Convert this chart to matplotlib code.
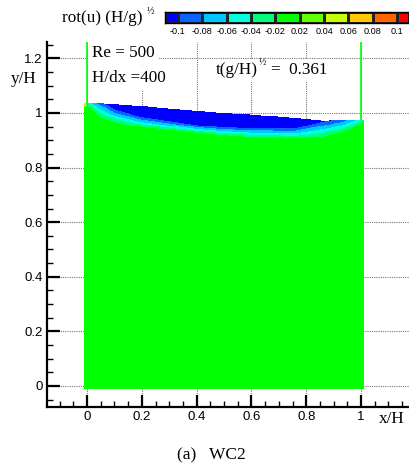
import matplotlib
matplotlib.use('Agg')
import matplotlib.pyplot as plt
from matplotlib.colors import ListedColormap, BoundaryNorm
import numpy as np

W, H = 409, 465
SERIF = 'Liberation Serif'
SANS = 'Liberation Sans'

# ---- data ----
levels = [-0.1, -0.08, -0.06, -0.04, -0.02, 0.02, 0.04, 0.06, 0.08, 0.1]
level_labels = ['-0.1', '-0.08', '-0.06', '-0.04', '-0.02', '0.02', '0.04', '0.06', '0.08', '0.1']
band_colors = ['#0000FF', '#0A64FF', '#00C8FF', '#00FFDC', '#00FF78', '#00FF00',
               '#64FF00', '#C8FF00', '#FFC800', '#FF6400', '#FF0000']

# free surface height y/H along x/H
surf_x = [-0.01, 0.05, 0.1, 0.193, 0.27, 0.41, 0.485, 0.595, 0.76, 0.858, 0.93, 1.01]
surf_y = [1.037, 1.036, 1.033, 1.026, 1.018, 1.007, 1.001, 0.995, 0.981, 0.972, 0.973, 0.974]

# depth below the surface where rot(u) = -0.1 and where it reaches -0.02
band_x = [-0.01, 0.02, 0.047, 0.065, 0.1, 0.157, 0.193, 0.255, 0.41, 0.595, 0.76, 0.858, 0.93, 0.978, 1.01]
depth_blue = [-0.03, -0.02, -0.008, 0.0, 0.02, 0.031, 0.041, 0.043, 0.053, 0.051, 0.037, 0.005, -0.006, -0.02, -0.03]
depth_green = [0.002, 0.025, 0.051, 0.058, 0.066, 0.075, 0.076, 0.077, 0.080, 0.082, 0.073, 0.059, 0.043, 0.024, 0.005]

# small positive spot at the upper left corner
corner_peak = 0.10
corner_radius = 0.02

fluid_x = (-0.01, 1.01)
fluid_bottom = -0.01

# ---- field ----
xg = np.linspace(fluid_x[0], fluid_x[1], 520)
yg = np.linspace(fluid_bottom, max(surf_y), 600)
X, Y = np.meshgrid(xg, yg)
eta = np.interp(X, surf_x, surf_y)
db = np.interp(X, band_x, depth_blue)
dg = np.interp(X, band_x, depth_green)
depth = eta - Y
rot = -0.02 - 0.08 * (dg - depth) / (dg - db)
rot = np.clip(rot, -0.3, 0.0)
r = np.hypot(X - fluid_x[0], depth)
rot = rot + corner_peak * np.clip(1 - r / corner_radius, 0, 1)
rot = np.ma.masked_where(depth < 0, rot)

cmap = ListedColormap(band_colors)
bounds = [-1.0] + levels + [1.0]
norm = BoundaryNorm(bounds, cmap.N)

fig = plt.figure(figsize=(W / 100, H / 100), dpi=100)
fig.patch.set_facecolor('white')


def fx(px):
    return px / W


def fy(py):
    return 1 - py / H


ax = fig.add_axes([fx(47), fy(407), fx(409) - fx(47), fy(42) - fy(407)])
ax.set_xlim(-0.146, 1.175)
ax.set_ylim(-0.077, 1.26)

ax.pcolormesh(X, Y, rot, cmap=cmap, norm=norm, shading='auto', zorder=2, rasterized=True)

# green lines at the walls above the surface
for xw in (0.0, 1.0):
    ax.plot([xw, xw], [np.interp(xw, surf_x, surf_y), 1.26], color='#00FF00', lw=1.2,
            zorder=3, solid_capstyle='butt')

ax.set_xticks([0, 0.2, 0.4, 0.6, 0.8, 1.0])
ax.set_xticklabels(['0', '0.2', '0.4', '0.6', '0.8', '1'])
ax.set_yticks([0, 0.2, 0.4, 0.6, 0.8, 1.0, 1.2])
ax.set_yticklabels(['0', '0.2', '0.4', '0.6', '0.8', '1', '1.2'])
ax.set_xticks(np.arange(-0.1, 1.176, 0.05), minor=True)
ax.set_yticks(np.arange(-0.05, 1.26, 0.05), minor=True)
ax.grid(True, which='major', linestyle=(0, (1, 1)), color='#777777', lw=0.8, zorder=1)
ax.set_axisbelow(True)
ax.tick_params(which='major', direction='in', length=9, width=1.6, pad=3,
               labelsize=9.5, labelfontfamily=SANS)
ax.tick_params(which='minor', direction='in', length=4.5, width=1.0)
for s in ('top', 'right'):
    ax.spines[s].set_visible(False)
for s in ('left', 'bottom'):
    ax.spines[s].set_linewidth(1.6)

# annotations
box = dict(boxstyle='square,pad=0.25', facecolor='white', edgecolor='none')
fig.text(fx(92), fy(57), 'Re = 500', fontsize=12.3, family=SERIF,
         va='baseline', ha='left', zorder=5, bbox=box)
fig.text(fx(92), fy(82), 'H/dx =400', fontsize=12.3, family=SERIF,
         va='baseline', ha='left', zorder=5, bbox=box)
fig.text(fx(216), fy(74), 't(g/H)', fontsize=12.3, family=SERIF, va='baseline', ha='left',
         bbox=dict(boxstyle='square,pad=0.2', facecolor='white', edgecolor='none'))
fig.text(fx(259), fy(64), '½', fontsize=7, family=SERIF, va='baseline', ha='left')
fig.text(fx(271), fy(74), '=  0.361', fontsize=12.3, family=SERIF, va='baseline', ha='left',
         bbox=dict(boxstyle='square,pad=0.2', facecolor='white', edgecolor='none'))

fig.text(fx(379), fy(423), 'x/H', fontsize=12.3, family=SERIF, va='baseline', ha='left')
fig.text(fx(11), fy(83), 'y/H', fontsize=12.3, family=SERIF, va='baseline', ha='left')
fig.text(fx(211), fy(459), '(a)   WC2', fontsize=12.5, family=SERIF, va='baseline', ha='center')

fig.text(fx(62), fy(22.5), 'rot(u) (H/g)', fontsize=12.3, family=SERIF, va='baseline', ha='left')
fig.text(fx(147), fy(13), '½', fontsize=7, family=SERIF, va='baseline', ha='left')

# colour legend
cax = fig.add_axes([fx(165), fy(23.3), fx(409) - fx(165), fy(12.3) - fy(23.3)])
edges = np.array([-0.53] + list(np.arange(0, 10)) + [9.49])
vals = np.arange(len(band_colors)).reshape(1, -1)
cax.pcolormesh(edges, [0, 1], vals, cmap=cmap, vmin=-0.5, vmax=len(band_colors) - 0.5,
               edgecolor='#222222', linewidth=0.8)
cax.set_xlim(edges[0], edges[-1])
cax.set_ylim(0, 1)
cax.set_yticks([])
cax.set_xticks(np.arange(len(levels)))
cax.set_xticklabels(level_labels, fontsize=6.6, family=SANS)
cax.tick_params(axis='x', length=0, pad=2.5)
for s in cax.spines.values():
    s.set_linewidth(1.0)

fig.savefig('out.png', dpi=100, facecolor='white')
